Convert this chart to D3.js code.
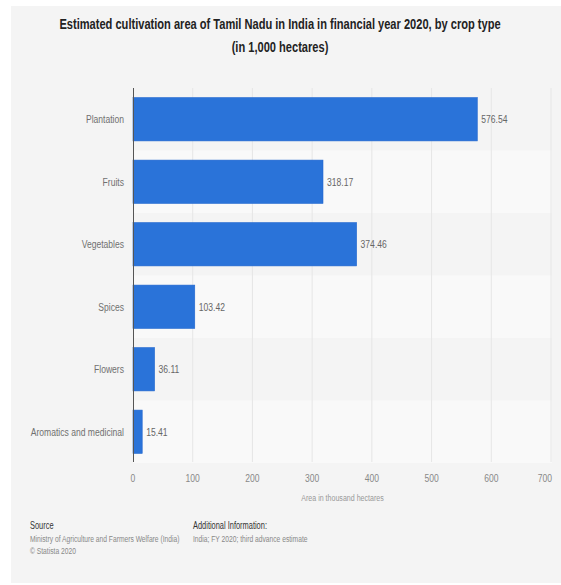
<!DOCTYPE html>
<html><head><meta charset="utf-8">
<script src="https://cdnjs.cloudflare.com/ajax/libs/d3/7.8.5/d3.min.js"></script>
<style>html,body{margin:0;padding:0;background:#fff}svg{display:block}</style>
</head><body>
<script>
const categories = ["Plantation","Fruits","Vegetables","Spices","Flowers","Aromatics and medicinal"];
const values = [576.54, 318.17, 374.46, 103.42, 36.11, 15.41];
const xTicks = [0,100,200,300,400,500,600,700];
const titleLines = ["Estimated cultivation area of Tamil Nadu in India in financial year 2020, by crop type","(in 1,000 hectares)"];
const axisTitle = "Area in thousand hectares";
const sourceHead = "Source";
const sourceLines = ["Ministry of Agriculture and Farmers Welfare (India)","© Statista 2020"];
const infoHead = "Additional Information:";
const infoLines = ["India; FY 2020; third advance estimate"];

(function(){
const W = 561, H = 585, SX = 0.745;
const FONT = "'Liberation Sans', Arial, sans-serif";
const svg = d3.select("body").append("svg").attr("width", W).attr("height", H);
svg.append("rect").attr("x",11).attr("y",6).attr("width",W-11).attr("height",H-8).attr("fill","#f4f4f4");

function txt(x, y, s, o) {
  const g = svg.append("g").attr("transform", `translate(${x},${y}) scale(${o.sx || SX},1)`);
  return g.append("text").text(s)
    .attr("font-family", FONT).attr("font-size", o.size)
    .attr("font-weight", o.weight || "normal")
    .attr("fill", o.fill || "#666")
    .attr("text-anchor", o.anchor || "start")
    .attr("dominant-baseline", o.baseline || "auto");
}

const pL = 133, pR = 551, pT = 88, pB = 463;
const x = d3.scaleLinear().domain([0,700]).range([pL,pR]);
const y = d3.scaleBand().domain(categories).range([pT,pB]).paddingInner(0.307).paddingOuter(0.1535);
const band = d3.scaleBand().domain(categories).range([pT,pB]);

svg.append("g").selectAll("rect").data(categories).join("rect")
  .attr("x", pL).attr("width", pR-pL+1)
  .attr("y", d => band(d)).attr("height", band.bandwidth())
  .attr("fill", (d,i) => i % 2 ? "#f9f9f9" : "#f4f4f4");

svg.append("g").selectAll("line").data(xTicks.slice(1)).join("line")
  .attr("x1", d => x(d)).attr("x2", d => x(d))
  .attr("y1", pT).attr("y2", pB-1)
  .attr("stroke", "#e6e6e6").attr("stroke-width", 1);

svg.append("g").selectAll("rect").data(values).join("rect")
  .attr("x", x(0)).attr("y", (d,i) => y(categories[i]))
  .attr("width", d => x(d) - x(0)).attr("height", y.bandwidth())
  .attr("fill", "#2a73d9").attr("stroke", "#2166cf").attr("stroke-width", 0.6);

svg.append("line").attr("x1", pL+0.5).attr("x2", pL+0.5).attr("y1", pT).attr("y2", pB-1)
  .attr("stroke", "#555").attr("stroke-width", 1);

categories.forEach((c,i) => {
  txt(124, y(c) + y.bandwidth()/2, c, {size: 11.5, anchor: "end", baseline: "central", fill: "#707070"});
  txt(x(values[i]) + 4, y(c) + y.bandwidth()/2, d3.format(".2f")(values[i]), {size: 11.5, baseline: "central", fill: "#666"});
});

xTicks.forEach((t,i) => {
  const last = i === xTicks.length - 1;
  txt(last ? x(t) + 1 : x(t), 482, String(t), {size: 11.5, anchor: last ? "end" : "middle", fill: "#888"});
});
txt((pL+pR)/2 + 0.5, 501, axisTitle, {size: 9.5, anchor: "middle", fill: "#999"});

txt(280, 29, titleLines[0], {size: 14.5, weight: "bold", anchor: "middle", fill: "#222", sx: 0.765});
txt(280, 52, titleLines[1], {size: 14.5, weight: "bold", anchor: "middle", fill: "#222", sx: 0.765});

txt(30, 529, sourceHead, {size: 10, fill: "#333"});
sourceLines.forEach((s,i) => txt(30, 542 + i*12, s, {size: 9, fill: "#888"}));
txt(193, 529, infoHead, {size: 10, fill: "#333"});
infoLines.forEach((s,i) => txt(193, 542 + i*12, s, {size: 9, fill: "#888"}));
})();
</script>
</body></html>
